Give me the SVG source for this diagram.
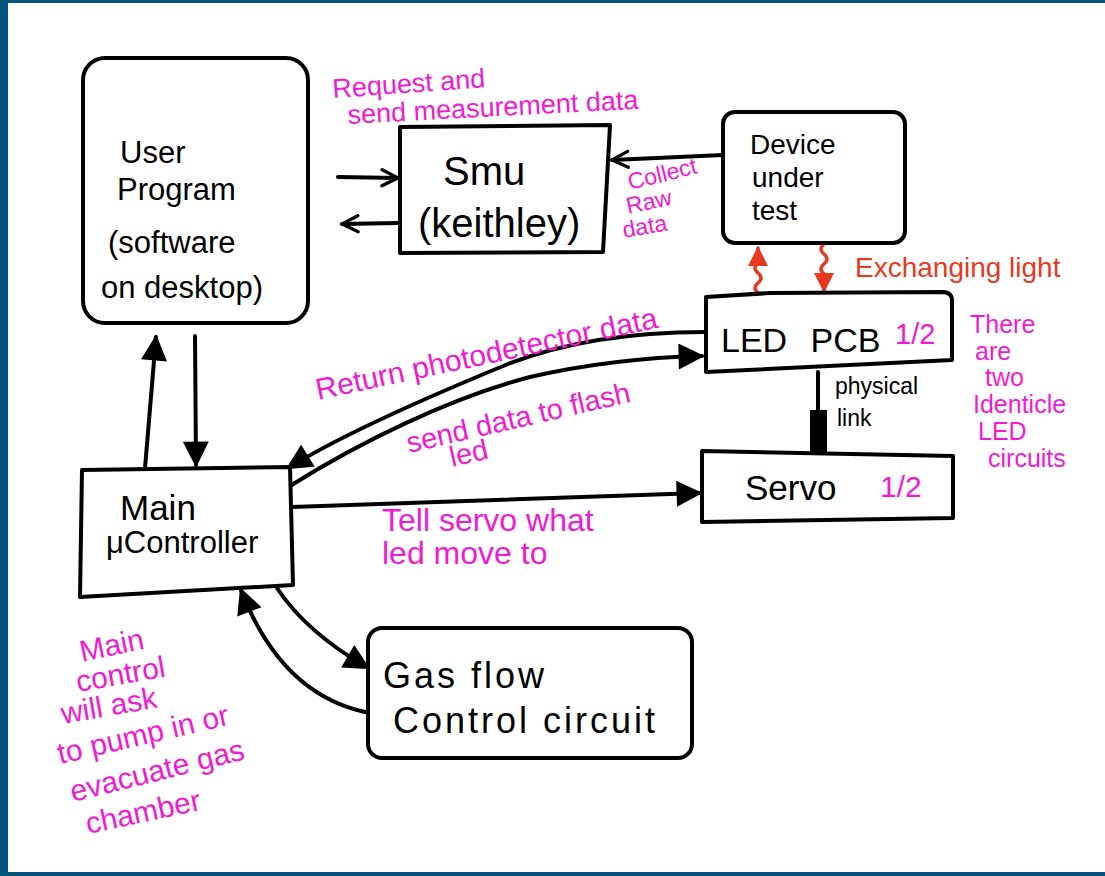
<svg xmlns="http://www.w3.org/2000/svg" width="1105" height="876" viewBox="0 0 1105 876">
<defs>
<style>
.box{fill:#fff;stroke:#000;stroke-width:4;stroke-linejoin:round;stroke-linecap:round}
.con{fill:none;stroke:#000;stroke-width:4;stroke-linecap:round}
.red{fill:none;stroke:#e53a1f;stroke-width:3.5;stroke-linecap:round;stroke-linejoin:round}
.t{font-family:"Liberation Sans",Arial,sans-serif;fill:#000}
.m{font-family:"Liberation Sans",Arial,sans-serif;fill:#f01ad2}
.r{font-family:"Liberation Sans",Arial,sans-serif;fill:#e53a1f}
</style>
<marker id="tri" viewBox="0 0 10 10" refX="9" refY="5" markerWidth="28" markerHeight="26" markerUnits="userSpaceOnUse" orient="auto"><path d="M0,0 L10,5 L0,10 z" fill="#000"/></marker>
<marker id="open" viewBox="0 0 10 10" refX="9" refY="5" markerWidth="20" markerHeight="20" markerUnits="userSpaceOnUse" orient="auto"><path d="M1,1 L9,5 L1,9" fill="none" stroke="#000" stroke-width="1.6" stroke-linecap="round" stroke-linejoin="round"/></marker>
<marker id="redtri" viewBox="0 0 10 10" refX="9" refY="5" markerWidth="20" markerHeight="22" markerUnits="userSpaceOnUse" orient="auto"><path d="M0,0 L10,5 L0,10 z" fill="#e53a1f"/></marker>
</defs>
<rect x="0" y="0" width="1105" height="876" fill="#fff"/>
<rect x="0" y="0" width="1105" height="3" fill="#03557e"/>
<rect x="0" y="0" width="8" height="876" fill="#03557e"/>
<rect x="0" y="872" width="1105" height="4" fill="#03557e"/>

<g id="connectors">
<path class="con" d="M338,177 L398,178" marker-end="url(#open)"/>
<path class="con" d="M398,223 L342,224" marker-end="url(#open)"/>
<path class="con" d="M723,155 L612,160" marker-end="url(#open)"/>
<path class="con" d="M145,468 L156,337" marker-end="url(#tri)"/>
<path class="con" d="M195,336 L196,465" marker-end="url(#tri)"/>
<path class="con" d="M705,332 C645,332 575,338 508,364 C430,396 340,436 288,468" marker-end="url(#tri)"/>
<path class="con" d="M290,486 C360,442 450,398 530,377 C600,361 660,357 702,356" marker-end="url(#tri)"/>
<path class="con" d="M292,507 L700,493" marker-end="url(#tri)"/>
<path class="con" d="M277,588 C298,620 330,646 368,668" marker-end="url(#tri)"/>
<path class="con" d="M365,712 C310,700 268,660 241,590" marker-end="url(#tri)"/>
<path class="con" d="M818,372 L818,412"/>
<rect x="810" y="410" width="17" height="43" fill="#000"/>
<path class="red" d="M758,293 q-6,-5 0,-10 q6,-5 0,-10 q-6,-5 0,-10 l0,-15" marker-end="url(#redtri)"/>
<path class="red" d="M824,244 q-6,5 0,10 q6,5 0,10 q-6,5 0,10 l0,17" marker-end="url(#redtri)"/>
</g>

<g id="user-program">
<rect class="box" x="83" y="58" width="225" height="265" rx="22"/>
<text class="t" font-size="31" x="120" y="163">User</text>
<text class="t" font-size="31" x="117" y="200">Program</text>
<text class="t" font-size="31" x="108" y="253">(software</text>
<text class="t" font-size="31" x="101" y="298">on desktop)</text>
</g>

<g id="smu">
<path class="box" d="M400,127 L610,125 L603,252 L400,253 Z"/>
<text class="t" font-size="40" x="443" y="185">Smu</text>
<text class="t" font-size="40" x="418" y="237">(keithley)</text>
</g>

<g id="dut">
<rect class="box" x="723" y="112" width="182" height="131" rx="12"/>
<text class="t" font-size="28" x="750" y="154">Device</text>
<text class="t" font-size="28" x="752" y="187">under</text>
<text class="t" font-size="28" x="752" y="220">test</text>
</g>

<g id="led-pcb">
<path class="box" d="M706,297 L770,293 L944,292 Q952,293 952,300 L952,360 L706,372 Z"/>
<text class="t" font-size="34" x="721" y="352" word-spacing="14">LED PCB</text>
<text class="m" font-size="29" x="895" y="344">1/2</text>
</g>

<g id="servo">
<path class="box" d="M702,451 L953,456 L953,518 L702,522 Z"/>
<text class="t" font-size="35" x="745" y="500">Servo</text>
<text class="m" font-size="30" x="880" y="497">1/2</text>
</g>

<g id="main-controller">
<path class="box" d="M82,470 L290,467 L293,585 L80,597 Z"/>
<text class="t" font-size="35" x="120" y="520">Main</text>
<text class="t" font-size="31" x="106" y="553">μController</text>
</g>

<g id="gas-flow">
<rect class="box" x="368" y="628" width="324" height="130" rx="14"/>
<text class="t" font-size="36" x="383" y="688" letter-spacing="3">Gas flow</text>
<text class="t" font-size="36" x="393" y="733" letter-spacing="3">Control circuit</text>
</g>

<g id="labels">
<text class="m" font-size="27" transform="translate(333,98) rotate(-4)">Request and</text>
<text class="m" font-size="27" transform="translate(348,124) rotate(-3)">send measurement data</text>
<text class="m" font-size="23" transform="translate(630,190) rotate(-14)">Collect</text>
<text class="m" font-size="23" transform="translate(628,214) rotate(-12)">Raw</text>
<text class="m" font-size="23" transform="translate(624,238) rotate(-10)">data</text>
<text class="r" font-size="28" x="855" y="277">Exchanging light</text>
<text class="m" font-size="30" transform="translate(318,400) rotate(-12)">Return photodetector data</text>
<text class="m" font-size="29" transform="translate(409,453) rotate(-13)">send data to flash</text>
<text class="m" font-size="29" transform="translate(452,467) rotate(-13)">led</text>
<text class="t" font-size="23" x="835" y="394">physical</text>
<text class="t" font-size="23" x="837" y="426">link</text>
<text class="m" font-size="25" x="970" y="333">There</text>
<text class="m" font-size="25" x="975" y="360">are</text>
<text class="m" font-size="25" x="985" y="386">two</text>
<text class="m" font-size="25" x="973" y="413">Identicle</text>
<text class="m" font-size="25" x="978" y="440">LED</text>
<text class="m" font-size="25" x="988" y="467">circuits</text>
<text class="m" font-size="32" x="382" y="531">Tell servo what</text>
<text class="m" font-size="32" x="382" y="564">led move to</text>
<text class="m" font-size="30" transform="translate(82,662) rotate(-12)">Main</text>
<text class="m" font-size="30" transform="translate(78,692) rotate(-10)">control</text>
<text class="m" font-size="30" transform="translate(63,724) rotate(-10)">will ask</text>
<text class="m" font-size="30" transform="translate(60,764) rotate(-13)">to pump in or</text>
<text class="m" font-size="30" transform="translate(73,802) rotate(-14)">evacuate gas</text>
<text class="m" font-size="30" transform="translate(88,834) rotate(-12)">chamber</text>
</g>
</svg>
